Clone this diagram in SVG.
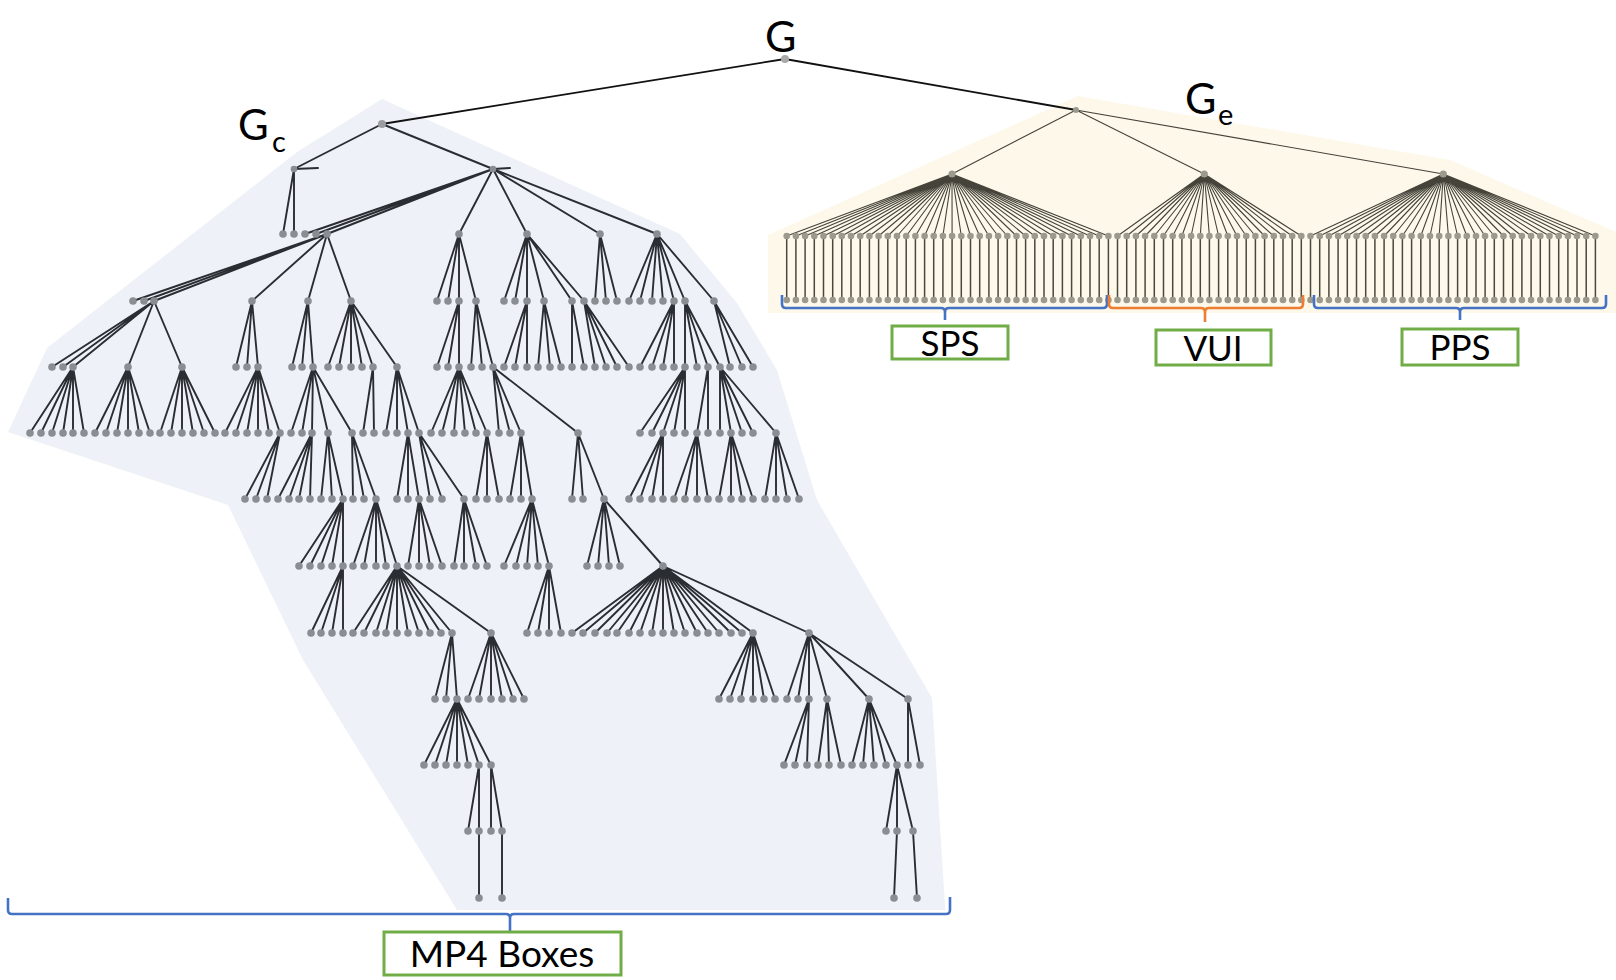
<svg xmlns="http://www.w3.org/2000/svg" width="1616" height="980" viewBox="0 0 1616 980">
<style>
.lbl{font-family:Lato,"Open Sans","Liberation Sans",sans-serif;fill:#000}
.e{stroke:#2a2d32;stroke-width:1.9;fill:none;stroke-linecap:round}
.top{stroke:#111;stroke-width:1.8;fill:none}
.n circle{fill:#8a8d92}
.re{stroke:#45433a;stroke-width:1.1;fill:none}
.rv{stroke:#4a483d;stroke-width:1.5;fill:none}
.rn circle{fill:#9c9a8d}
.box{fill:#fff;stroke:#70ad47;stroke-width:3}
.bb{stroke:#4472c4;stroke-width:2.6;fill:none}
.bo{stroke:#ed7d31;stroke-width:2.6;fill:none}
</style>
<rect width="1616" height="980" fill="#fff"/>
<g id="backgrounds">
<polygon points="382,99 680,234 737,303 777,370 817,500 932,698 945,905 945,910 457,910 303,660 228,505 8,432 47,348 297,152" fill="#eef1f7"/>
<polygon points="768,235 1078,96 1450,160 1616,232 1616,313 768,313" fill="#fdf8ea"/>
</g>
<g id="connectors">
<path class="top" d="M785 59L382 124M785 59L1076 110"/>
<path class="re" stroke-width="1.5" d="M1076 110L952 174M1076 110L1204.3 174M1076 110L1443.3 174"/>
<path class="e" d="M382 124L294 169M382 124L493 169"/>
<path class="e" stroke-width="1.2" d="M294 169L318 168M493 169L510 168"/>
<path class="e" d="M294 169L283 234M294 169L294 234M493 169L305 234M493 169L316 234M493 169L327 234M493 169L459 234M493 169L527 234M493 169L600 234M493 169L657 234"/>
<path class="e" d="M327 234L133 301M327 234L144 301M327 234L154 301M327 234L252 301M327 234L308 301M327 234L351 301M459 234L437 301M459 234L448 301M459 234L459 301M459 234L476 301M527 234L504 301M527 234L515 301M527 234L527 301M527 234L544 301M527 234L572 301M527 234L584 301M600 234L595 301M600 234L606 301M600 234L617 301M657 234L629 301M657 234L640 301M657 234L652 301M657 234L663 301M657 234L674 301M657 234L685 301M657 234L714 301"/>
<path class="e" d="M154 301L52 367M154 301L63 367M154 301L73 367M154 301L128 367M154 301L182 367M252 301L236 367M252 301L247 367M252 301L258 367M308 301L292 367M308 301L302 367M308 301L313 367M351 301L328 367M351 301L339 367M351 301L351 367M351 301L362 367M351 301L373 367M351 301L397 367M459 301L437 367M459 301L448 367M459 301L459 367M476 301L471 367M476 301L482 367M476 301L493 367M527 301L504 367M527 301L515 367M527 301L527 367M544 301L538 367M544 301L550 367M544 301L561 367M572 301L572 367M572 301L584 367M584 301L595 367M584 301L606 367M584 301L617 367M584 301L629 367M674 301L640 367M674 301L652 367M674 301L663 367M674 301L674 367M685 301L685 367M685 301L697 367M685 301L708 367M685 301L720 367M714 301L730 367M714 301L742 367M714 301L753 367"/>
<path class="e" d="M73 367L30 433M73 367L41 433M73 367L52 433M73 367L63 433M73 367L73 433M73 367L84 433M128 367L95 433M128 367L106 433M128 367L117 433M128 367L128 433M128 367L139 433M128 367L150 433M182 367L160 433M182 367L171 433M182 367L182 433M182 367L193 433M182 367L204 433M182 367L215 433M258 367L225 433M258 367L236 433M258 367L247 433M258 367L258 433M258 367L269 433M258 367L280 433M313 367L291 433M313 367L302 433M313 367L312 433M313 367L328 433M313 367L352 433M373 367L363 433M373 367L374 433M397 367L386 433M397 367L397 433M397 367L408 433M397 367L419 433M459 367L431 433M459 367L442 433M459 367L454 433M459 367L465 433M459 367L476 433M459 367L487 433M493 367L499 433M493 367L510 433M493 367L521 433M493 367L578 433M685 367L640 433M685 367L652 433M685 367L663 433M685 367L674 433M685 367L685 433M708 367L697 433M708 367L708 433M720 367L720 433M720 367L731 433M720 367L742 433M720 367L753 433M720 367L776 433"/>
<path class="e" d="M280 433L245 499M280 433L256 499M280 433L267 499M312 433L278 499M312 433L289 499M312 433L299 499M312 433L310 499M328 433L321 499M328 433L332 499M328 433L343 499M352 433L353 499M352 433L364 499M352 433L376 499M408 433L397 499M408 433L408 499M408 433L419 499M419 433L430 499M419 433L442 499M419 433L464 499M487 433L476 499M487 433L487 499M487 433L499 499M521 433L510 499M521 433L521 499M521 433L532 499M578 433L572 499M578 433L583 499M578 433L604 499M663 433L629 499M663 433L640 499M663 433L652 499M663 433L663 499M697 433L674 499M697 433L685 499M697 433L697 499M697 433L708 499M731 433L719 499M731 433L731 499M731 433L742 499M731 433L753 499M776 433L765 499M776 433L776 499M776 433L787 499M776 433L799 499"/>
<path class="e" d="M343 499L299 566M343 499L310 566M343 499L321 566M343 499L332 566M343 499L343 566M376 499L353 566M376 499L364 566M376 499L376 566M376 499L386 566M376 499L397 566M419 499L408 566M419 499L419 566M419 499L430 566M419 499L442 566M464 499L454 566M464 499L464 566M464 499L476 566M464 499L487 566M532 499L504 566M532 499L516 566M532 499L527 566M532 499L538 566M532 499L549 566M604 499L587 566M604 499L598 566M604 499L609 566M604 499L620 566M604 499L663 566"/>
<path class="e" d="M343 566L311 633M343 566L321 633M343 566L332 633M343 566L343 633M397 566L353 633M397 566L364 633M397 566L376 633M397 566L386 633M397 566L397 633M397 566L408 633M397 566L419 633M397 566L430 633M397 566L441 633M397 566L452 633M397 566L491 633M549 566L527 633M549 566L538 633M549 566L549 633M549 566L561 633M663 566L572 633M663 566L583 633M663 566L595 633M663 566L607 633M663 566L617 633M663 566L629 633M663 566L640 633M663 566L652 633M663 566L663 633M663 566L674 633M663 566L685 633M663 566L697 633M663 566L708 633M663 566L719 633M663 566L731 633M663 566L742 633M663 566L753 633M663 566L809 633"/>
<path class="e" d="M452 633L435 699M452 633L446 699M452 633L457 699M491 633L468 699M491 633L479 699M491 633L491 699M491 633L502 699M491 633L513 699M491 633L524 699M753 633L719 699M753 633L730 699M753 633L741 699M753 633L753 699M753 633L764 699M753 633L775 699M809 633L787 699M809 633L798 699M809 633L809 699M809 633L827 699M809 633L869 699M809 633L908 699"/>
<path class="e" d="M457 699L424 765M457 699L435 765M457 699L446 765M457 699L457 765M457 699L468 765M457 699L479 765M457 699L491 765M809 699L784 765M809 699L795 765M809 699L807 765M827 699L818 765M827 699L829 765M827 699L841 765M869 699L852 765M869 699L863 765M869 699L874 765M869 699L886 765M869 699L897 765M908 699L908 765M908 699L920 765"/>
<path class="e" d="M479 765L468 831M479 765L479 831M491 765L491 831M491 765L502 831M897 765L886 831M897 765L897 831M897 765L913 831M479 831L479 898M502 831L502 898M897 831L894 898M913 831L917 898"/>
<path class="re" d="M952 174L786.7 236M952 174L795.9 236M952 174L805.1 236M952 174L814.3 236M952 174L823.5 236M952 174L832.7 236M952 174L841.8 236M952 174L851 236M952 174L860.2 236M952 174L869.4 236M952 174L878.6 236M952 174L887.8 236M952 174L897 236M952 174L906.2 236M952 174L915.4 236M952 174L924.6 236M952 174L933.7 236M952 174L942.9 236M952 174L952.1 236M952 174L961.3 236M952 174L970.5 236M952 174L979.7 236M952 174L988.9 236M952 174L998.1 236M952 174L1007.3 236M952 174L1016.5 236M952 174L1025.6 236M952 174L1034.8 236M952 174L1044 236M952 174L1053.2 236M952 174L1062.4 236M952 174L1071.6 236M952 174L1080.8 236M952 174L1090 236M952 174L1099.2 236M952 174L1108.4 236"/>
<path class="re" d="M1204.3 174L1117.5 236M1204.3 174L1126.7 236M1204.3 174L1135.9 236M1204.3 174L1145.1 236M1204.3 174L1154.3 236M1204.3 174L1163.5 236M1204.3 174L1172.7 236M1204.3 174L1181.9 236M1204.3 174L1191.1 236M1204.3 174L1200.3 236M1204.3 174L1209.4 236M1204.3 174L1218.6 236M1204.3 174L1227.8 236M1204.3 174L1237 236M1204.3 174L1246.2 236M1204.3 174L1255.4 236M1204.3 174L1264.6 236M1204.3 174L1273.8 236M1204.3 174L1283 236M1204.3 174L1292.2 236M1204.3 174L1301.3 236"/>
<path class="re" d="M1443.3 174L1310.5 236M1443.3 174L1319.7 236M1443.3 174L1328.9 236M1443.3 174L1338.1 236M1443.3 174L1347.3 236M1443.3 174L1356.5 236M1443.3 174L1365.7 236M1443.3 174L1374.9 236M1443.3 174L1384.1 236M1443.3 174L1393.2 236M1443.3 174L1402.4 236M1443.3 174L1411.6 236M1443.3 174L1420.8 236M1443.3 174L1430 236M1443.3 174L1439.2 236M1443.3 174L1448.4 236M1443.3 174L1457.6 236M1443.3 174L1466.8 236M1443.3 174L1476 236M1443.3 174L1485.1 236M1443.3 174L1494.3 236M1443.3 174L1503.5 236M1443.3 174L1512.7 236M1443.3 174L1521.9 236M1443.3 174L1531.1 236M1443.3 174L1540.3 236M1443.3 174L1549.5 236M1443.3 174L1558.7 236M1443.3 174L1567.9 236M1443.3 174L1577 236M1443.3 174L1586.2 236M1443.3 174L1595.4 236"/>
<path class="rv" d="M786.7 236V300M795.9 236V300M805.1 236V300M814.3 236V300M823.5 236V300M832.7 236V300M841.8 236V300M851 236V300M860.2 236V300M869.4 236V300M878.6 236V300M887.8 236V300M897 236V300M906.2 236V300M915.4 236V300M924.6 236V300M933.7 236V300M942.9 236V300M952.1 236V300M961.3 236V300M970.5 236V300M979.7 236V300M988.9 236V300M998.1 236V300M1007.3 236V300M1016.5 236V300M1025.6 236V300M1034.8 236V300M1044 236V300M1053.2 236V300M1062.4 236V300M1071.6 236V300M1080.8 236V300M1090 236V300M1099.2 236V300M1108.4 236V300M1117.5 236V300M1126.7 236V300M1135.9 236V300M1145.1 236V300M1154.3 236V300M1163.5 236V300M1172.7 236V300M1181.9 236V300M1191.1 236V300M1200.3 236V300M1209.4 236V300M1218.6 236V300M1227.8 236V300M1237 236V300M1246.2 236V300M1255.4 236V300M1264.6 236V300M1273.8 236V300M1283 236V300M1292.2 236V300M1301.3 236V300M1310.5 236V300M1319.7 236V300M1328.9 236V300M1338.1 236V300M1347.3 236V300M1356.5 236V300M1365.7 236V300M1374.9 236V300M1384.1 236V300M1393.2 236V300M1402.4 236V300M1411.6 236V300M1420.8 236V300M1430 236V300M1439.2 236V300M1448.4 236V300M1457.6 236V300M1466.8 236V300M1476 236V300M1485.1 236V300M1494.3 236V300M1503.5 236V300M1512.7 236V300M1521.9 236V300M1531.1 236V300M1540.3 236V300M1549.5 236V300M1558.7 236V300M1567.9 236V300M1577 236V300M1586.2 236V300M1595.4 236V300"/>
</g>
<g id="node-G"><circle cx="785" cy="59" r="4" fill="#a9a9a9"/><text class="lbl" x="765" y="52" font-size="43">G</text></g>
<g id="node-Gc"><circle cx="382" cy="124" r="4" fill="#9a9ca0"/><text class="lbl" x="238" y="140" font-size="42">G</text><text class="lbl" x="272" y="152" font-size="29">c</text></g>
<g id="node-Ge"><circle cx="1076" cy="110" r="3" fill="#9a9a90"/><text class="lbl" x="1185" y="114" font-size="43">G</text><text class="lbl" x="1218" y="125" font-size="29">e</text></g>
<g id="gc-nodes" class="n">
<g id="gc-l1" transform="translate(0,169)"><circle cx="294" r="3.3"/><circle cx="493" r="3.3"/></g>
<g id="gc-l2" transform="translate(0,234)"><circle cx="283" r="3.8"/><circle cx="294" r="3.8"/><circle cx="305" r="3.8"/><circle cx="316" r="3.8"/><circle cx="327" r="3.8"/><circle cx="459" r="3.8"/><circle cx="527" r="3.8"/><circle cx="600" r="3.8"/><circle cx="657" r="3.8"/></g>
<g id="gc-l3" transform="translate(0,301)"><circle cx="133" r="3.8"/><circle cx="144" r="3.8"/><circle cx="154" r="3.8"/><circle cx="252" r="3.8"/><circle cx="308" r="3.8"/><circle cx="351" r="3.8"/><circle cx="437" r="3.8"/><circle cx="448" r="3.8"/><circle cx="459" r="3.8"/><circle cx="476" r="3.8"/><circle cx="504" r="3.8"/><circle cx="515" r="3.8"/><circle cx="527" r="3.8"/><circle cx="544" r="3.8"/><circle cx="572" r="3.8"/><circle cx="584" r="3.8"/><circle cx="595" r="3.8"/><circle cx="606" r="3.8"/><circle cx="617" r="3.8"/><circle cx="629" r="3.8"/><circle cx="640" r="3.8"/><circle cx="652" r="3.8"/><circle cx="663" r="3.8"/><circle cx="674" r="3.8"/><circle cx="685" r="3.8"/><circle cx="714" r="3.8"/></g>
<g id="gc-l4" transform="translate(0,367)"><circle cx="52" r="3.8"/><circle cx="63" r="3.8"/><circle cx="73" r="3.8"/><circle cx="128" r="3.8"/><circle cx="182" r="3.8"/><circle cx="236" r="3.8"/><circle cx="247" r="3.8"/><circle cx="258" r="3.8"/><circle cx="292" r="3.8"/><circle cx="302" r="3.8"/><circle cx="313" r="3.8"/><circle cx="328" r="3.8"/><circle cx="339" r="3.8"/><circle cx="351" r="3.8"/><circle cx="362" r="3.8"/><circle cx="373" r="3.8"/><circle cx="397" r="3.8"/><circle cx="437" r="3.8"/><circle cx="448" r="3.8"/><circle cx="459" r="3.8"/><circle cx="471" r="3.8"/><circle cx="482" r="3.8"/><circle cx="493" r="3.8"/><circle cx="504" r="3.8"/><circle cx="515" r="3.8"/><circle cx="527" r="3.8"/><circle cx="538" r="3.8"/><circle cx="550" r="3.8"/><circle cx="561" r="3.8"/><circle cx="572" r="3.8"/><circle cx="584" r="3.8"/><circle cx="595" r="3.8"/><circle cx="606" r="3.8"/><circle cx="617" r="3.8"/><circle cx="629" r="3.8"/><circle cx="640" r="3.8"/><circle cx="652" r="3.8"/><circle cx="663" r="3.8"/><circle cx="674" r="3.8"/><circle cx="685" r="3.8"/><circle cx="697" r="3.8"/><circle cx="708" r="3.8"/><circle cx="720" r="3.8"/><circle cx="730" r="3.8"/><circle cx="742" r="3.8"/><circle cx="753" r="3.8"/></g>
<g id="gc-l5" transform="translate(0,433)"><circle cx="30" r="3.8"/><circle cx="41" r="3.8"/><circle cx="52" r="3.8"/><circle cx="63" r="3.8"/><circle cx="73" r="3.8"/><circle cx="84" r="3.8"/><circle cx="95" r="3.8"/><circle cx="106" r="3.8"/><circle cx="117" r="3.8"/><circle cx="128" r="3.8"/><circle cx="139" r="3.8"/><circle cx="150" r="3.8"/><circle cx="160" r="3.8"/><circle cx="171" r="3.8"/><circle cx="182" r="3.8"/><circle cx="193" r="3.8"/><circle cx="204" r="3.8"/><circle cx="215" r="3.8"/><circle cx="225" r="3.8"/><circle cx="236" r="3.8"/><circle cx="247" r="3.8"/><circle cx="258" r="3.8"/><circle cx="269" r="3.8"/><circle cx="280" r="3.8"/><circle cx="291" r="3.8"/><circle cx="302" r="3.8"/><circle cx="312" r="3.8"/><circle cx="328" r="3.8"/><circle cx="352" r="3.8"/><circle cx="363" r="3.8"/><circle cx="374" r="3.8"/><circle cx="386" r="3.8"/><circle cx="397" r="3.8"/><circle cx="408" r="3.8"/><circle cx="419" r="3.8"/><circle cx="431" r="3.8"/><circle cx="442" r="3.8"/><circle cx="454" r="3.8"/><circle cx="465" r="3.8"/><circle cx="476" r="3.8"/><circle cx="487" r="3.8"/><circle cx="499" r="3.8"/><circle cx="510" r="3.8"/><circle cx="521" r="3.8"/><circle cx="578" r="3.8"/><circle cx="640" r="3.8"/><circle cx="652" r="3.8"/><circle cx="663" r="3.8"/><circle cx="674" r="3.8"/><circle cx="685" r="3.8"/><circle cx="697" r="3.8"/><circle cx="708" r="3.8"/><circle cx="720" r="3.8"/><circle cx="731" r="3.8"/><circle cx="742" r="3.8"/><circle cx="753" r="3.8"/><circle cx="776" r="3.8"/></g>
<g id="gc-l6" transform="translate(0,499)"><circle cx="245" r="3.8"/><circle cx="256" r="3.8"/><circle cx="267" r="3.8"/><circle cx="278" r="3.8"/><circle cx="289" r="3.8"/><circle cx="299" r="3.8"/><circle cx="310" r="3.8"/><circle cx="321" r="3.8"/><circle cx="332" r="3.8"/><circle cx="343" r="3.8"/><circle cx="353" r="3.8"/><circle cx="364" r="3.8"/><circle cx="376" r="3.8"/><circle cx="397" r="3.8"/><circle cx="408" r="3.8"/><circle cx="419" r="3.8"/><circle cx="430" r="3.8"/><circle cx="442" r="3.8"/><circle cx="464" r="3.8"/><circle cx="476" r="3.8"/><circle cx="487" r="3.8"/><circle cx="499" r="3.8"/><circle cx="510" r="3.8"/><circle cx="521" r="3.8"/><circle cx="532" r="3.8"/><circle cx="572" r="3.8"/><circle cx="583" r="3.8"/><circle cx="604" r="3.8"/><circle cx="629" r="3.8"/><circle cx="640" r="3.8"/><circle cx="652" r="3.8"/><circle cx="663" r="3.8"/><circle cx="674" r="3.8"/><circle cx="685" r="3.8"/><circle cx="697" r="3.8"/><circle cx="708" r="3.8"/><circle cx="719" r="3.8"/><circle cx="731" r="3.8"/><circle cx="742" r="3.8"/><circle cx="753" r="3.8"/><circle cx="765" r="3.8"/><circle cx="776" r="3.8"/><circle cx="787" r="3.8"/><circle cx="799" r="3.8"/></g>
<g id="gc-l7" transform="translate(0,566)"><circle cx="299" r="3.8"/><circle cx="310" r="3.8"/><circle cx="321" r="3.8"/><circle cx="332" r="3.8"/><circle cx="343" r="3.8"/><circle cx="353" r="3.8"/><circle cx="364" r="3.8"/><circle cx="376" r="3.8"/><circle cx="386" r="3.8"/><circle cx="397" r="3.8"/><circle cx="408" r="3.8"/><circle cx="419" r="3.8"/><circle cx="430" r="3.8"/><circle cx="442" r="3.8"/><circle cx="454" r="3.8"/><circle cx="464" r="3.8"/><circle cx="476" r="3.8"/><circle cx="487" r="3.8"/><circle cx="504" r="3.8"/><circle cx="516" r="3.8"/><circle cx="527" r="3.8"/><circle cx="538" r="3.8"/><circle cx="549" r="3.8"/><circle cx="587" r="3.8"/><circle cx="598" r="3.8"/><circle cx="609" r="3.8"/><circle cx="620" r="3.8"/><circle cx="663" r="3.8"/></g>
<g id="gc-l8" transform="translate(0,633)"><circle cx="311" r="3.8"/><circle cx="321" r="3.8"/><circle cx="332" r="3.8"/><circle cx="343" r="3.8"/><circle cx="353" r="3.8"/><circle cx="364" r="3.8"/><circle cx="376" r="3.8"/><circle cx="386" r="3.8"/><circle cx="397" r="3.8"/><circle cx="408" r="3.8"/><circle cx="419" r="3.8"/><circle cx="430" r="3.8"/><circle cx="441" r="3.8"/><circle cx="452" r="3.8"/><circle cx="491" r="3.8"/><circle cx="527" r="3.8"/><circle cx="538" r="3.8"/><circle cx="549" r="3.8"/><circle cx="561" r="3.8"/><circle cx="572" r="3.8"/><circle cx="583" r="3.8"/><circle cx="595" r="3.8"/><circle cx="607" r="3.8"/><circle cx="617" r="3.8"/><circle cx="629" r="3.8"/><circle cx="640" r="3.8"/><circle cx="652" r="3.8"/><circle cx="663" r="3.8"/><circle cx="674" r="3.8"/><circle cx="685" r="3.8"/><circle cx="697" r="3.8"/><circle cx="708" r="3.8"/><circle cx="719" r="3.8"/><circle cx="731" r="3.8"/><circle cx="742" r="3.8"/><circle cx="753" r="3.8"/><circle cx="809" r="3.8"/></g>
<g id="gc-l9" transform="translate(0,699)"><circle cx="435" r="3.8"/><circle cx="446" r="3.8"/><circle cx="457" r="3.8"/><circle cx="468" r="3.8"/><circle cx="479" r="3.8"/><circle cx="491" r="3.8"/><circle cx="502" r="3.8"/><circle cx="513" r="3.8"/><circle cx="524" r="3.8"/><circle cx="719" r="3.8"/><circle cx="730" r="3.8"/><circle cx="741" r="3.8"/><circle cx="753" r="3.8"/><circle cx="764" r="3.8"/><circle cx="775" r="3.8"/><circle cx="787" r="3.8"/><circle cx="798" r="3.8"/><circle cx="809" r="3.8"/><circle cx="827" r="3.8"/><circle cx="869" r="3.8"/><circle cx="908" r="3.8"/></g>
<g id="gc-l10" transform="translate(0,765)"><circle cx="424" r="3.8"/><circle cx="435" r="3.8"/><circle cx="446" r="3.8"/><circle cx="457" r="3.8"/><circle cx="468" r="3.8"/><circle cx="479" r="3.8"/><circle cx="491" r="3.8"/><circle cx="784" r="3.8"/><circle cx="795" r="3.8"/><circle cx="807" r="3.8"/><circle cx="818" r="3.8"/><circle cx="829" r="3.8"/><circle cx="841" r="3.8"/><circle cx="852" r="3.8"/><circle cx="863" r="3.8"/><circle cx="874" r="3.8"/><circle cx="886" r="3.8"/><circle cx="897" r="3.8"/><circle cx="908" r="3.8"/><circle cx="920" r="3.8"/></g>
<g id="gc-l11" transform="translate(0,831)"><circle cx="468" r="3.8"/><circle cx="479" r="3.8"/><circle cx="491" r="3.8"/><circle cx="502" r="3.8"/><circle cx="886" r="3.8"/><circle cx="897" r="3.8"/><circle cx="913" r="3.8"/></g>
<g id="gc-l12" transform="translate(0,898)"><circle cx="479" r="3.8"/><circle cx="502" r="3.8"/><circle cx="894" r="3.8"/><circle cx="917" r="3.8"/></g>
</g>
<g id="ge-nodes" class="rn">
<g id="ge-l1"><circle cx="952" cy="174" r="3.6"/><circle cx="1204.3" cy="174" r="3.6"/><circle cx="1443.3" cy="174" r="3.6"/></g>
<g id="ge-l2" transform="translate(0,236)"><circle cx="786.7" r="3.3"/><circle cx="795.9" r="3.3"/><circle cx="805.1" r="3.3"/><circle cx="814.3" r="3.3"/><circle cx="823.5" r="3.3"/><circle cx="832.7" r="3.3"/><circle cx="841.8" r="3.3"/><circle cx="851" r="3.3"/><circle cx="860.2" r="3.3"/><circle cx="869.4" r="3.3"/><circle cx="878.6" r="3.3"/><circle cx="887.8" r="3.3"/><circle cx="897" r="3.3"/><circle cx="906.2" r="3.3"/><circle cx="915.4" r="3.3"/><circle cx="924.6" r="3.3"/><circle cx="933.7" r="3.3"/><circle cx="942.9" r="3.3"/><circle cx="952.1" r="3.3"/><circle cx="961.3" r="3.3"/><circle cx="970.5" r="3.3"/><circle cx="979.7" r="3.3"/><circle cx="988.9" r="3.3"/><circle cx="998.1" r="3.3"/><circle cx="1007.3" r="3.3"/><circle cx="1016.5" r="3.3"/><circle cx="1025.6" r="3.3"/><circle cx="1034.8" r="3.3"/><circle cx="1044" r="3.3"/><circle cx="1053.2" r="3.3"/><circle cx="1062.4" r="3.3"/><circle cx="1071.6" r="3.3"/><circle cx="1080.8" r="3.3"/><circle cx="1090" r="3.3"/><circle cx="1099.2" r="3.3"/><circle cx="1108.4" r="3.3"/><circle cx="1117.5" r="3.3"/><circle cx="1126.7" r="3.3"/><circle cx="1135.9" r="3.3"/><circle cx="1145.1" r="3.3"/><circle cx="1154.3" r="3.3"/><circle cx="1163.5" r="3.3"/><circle cx="1172.7" r="3.3"/><circle cx="1181.9" r="3.3"/><circle cx="1191.1" r="3.3"/><circle cx="1200.3" r="3.3"/><circle cx="1209.4" r="3.3"/><circle cx="1218.6" r="3.3"/><circle cx="1227.8" r="3.3"/><circle cx="1237" r="3.3"/><circle cx="1246.2" r="3.3"/><circle cx="1255.4" r="3.3"/><circle cx="1264.6" r="3.3"/><circle cx="1273.8" r="3.3"/><circle cx="1283" r="3.3"/><circle cx="1292.2" r="3.3"/><circle cx="1301.3" r="3.3"/><circle cx="1310.5" r="3.3"/><circle cx="1319.7" r="3.3"/><circle cx="1328.9" r="3.3"/><circle cx="1338.1" r="3.3"/><circle cx="1347.3" r="3.3"/><circle cx="1356.5" r="3.3"/><circle cx="1365.7" r="3.3"/><circle cx="1374.9" r="3.3"/><circle cx="1384.1" r="3.3"/><circle cx="1393.2" r="3.3"/><circle cx="1402.4" r="3.3"/><circle cx="1411.6" r="3.3"/><circle cx="1420.8" r="3.3"/><circle cx="1430" r="3.3"/><circle cx="1439.2" r="3.3"/><circle cx="1448.4" r="3.3"/><circle cx="1457.6" r="3.3"/><circle cx="1466.8" r="3.3"/><circle cx="1476" r="3.3"/><circle cx="1485.1" r="3.3"/><circle cx="1494.3" r="3.3"/><circle cx="1503.5" r="3.3"/><circle cx="1512.7" r="3.3"/><circle cx="1521.9" r="3.3"/><circle cx="1531.1" r="3.3"/><circle cx="1540.3" r="3.3"/><circle cx="1549.5" r="3.3"/><circle cx="1558.7" r="3.3"/><circle cx="1567.9" r="3.3"/><circle cx="1577" r="3.3"/><circle cx="1586.2" r="3.3"/><circle cx="1595.4" r="3.3"/></g>
<g id="ge-l3" transform="translate(0,300)"><circle cx="786.7" r="3.3"/><circle cx="795.9" r="3.3"/><circle cx="805.1" r="3.3"/><circle cx="814.3" r="3.3"/><circle cx="823.5" r="3.3"/><circle cx="832.7" r="3.3"/><circle cx="841.8" r="3.3"/><circle cx="851" r="3.3"/><circle cx="860.2" r="3.3"/><circle cx="869.4" r="3.3"/><circle cx="878.6" r="3.3"/><circle cx="887.8" r="3.3"/><circle cx="897" r="3.3"/><circle cx="906.2" r="3.3"/><circle cx="915.4" r="3.3"/><circle cx="924.6" r="3.3"/><circle cx="933.7" r="3.3"/><circle cx="942.9" r="3.3"/><circle cx="952.1" r="3.3"/><circle cx="961.3" r="3.3"/><circle cx="970.5" r="3.3"/><circle cx="979.7" r="3.3"/><circle cx="988.9" r="3.3"/><circle cx="998.1" r="3.3"/><circle cx="1007.3" r="3.3"/><circle cx="1016.5" r="3.3"/><circle cx="1025.6" r="3.3"/><circle cx="1034.8" r="3.3"/><circle cx="1044" r="3.3"/><circle cx="1053.2" r="3.3"/><circle cx="1062.4" r="3.3"/><circle cx="1071.6" r="3.3"/><circle cx="1080.8" r="3.3"/><circle cx="1090" r="3.3"/><circle cx="1099.2" r="3.3"/><circle cx="1108.4" r="3.3"/><circle cx="1117.5" r="3.3"/><circle cx="1126.7" r="3.3"/><circle cx="1135.9" r="3.3"/><circle cx="1145.1" r="3.3"/><circle cx="1154.3" r="3.3"/><circle cx="1163.5" r="3.3"/><circle cx="1172.7" r="3.3"/><circle cx="1181.9" r="3.3"/><circle cx="1191.1" r="3.3"/><circle cx="1200.3" r="3.3"/><circle cx="1209.4" r="3.3"/><circle cx="1218.6" r="3.3"/><circle cx="1227.8" r="3.3"/><circle cx="1237" r="3.3"/><circle cx="1246.2" r="3.3"/><circle cx="1255.4" r="3.3"/><circle cx="1264.6" r="3.3"/><circle cx="1273.8" r="3.3"/><circle cx="1283" r="3.3"/><circle cx="1292.2" r="3.3"/><circle cx="1301.3" r="3.3"/><circle cx="1310.5" r="3.3"/><circle cx="1319.7" r="3.3"/><circle cx="1328.9" r="3.3"/><circle cx="1338.1" r="3.3"/><circle cx="1347.3" r="3.3"/><circle cx="1356.5" r="3.3"/><circle cx="1365.7" r="3.3"/><circle cx="1374.9" r="3.3"/><circle cx="1384.1" r="3.3"/><circle cx="1393.2" r="3.3"/><circle cx="1402.4" r="3.3"/><circle cx="1411.6" r="3.3"/><circle cx="1420.8" r="3.3"/><circle cx="1430" r="3.3"/><circle cx="1439.2" r="3.3"/><circle cx="1448.4" r="3.3"/><circle cx="1457.6" r="3.3"/><circle cx="1466.8" r="3.3"/><circle cx="1476" r="3.3"/><circle cx="1485.1" r="3.3"/><circle cx="1494.3" r="3.3"/><circle cx="1503.5" r="3.3"/><circle cx="1512.7" r="3.3"/><circle cx="1521.9" r="3.3"/><circle cx="1531.1" r="3.3"/><circle cx="1540.3" r="3.3"/><circle cx="1549.5" r="3.3"/><circle cx="1558.7" r="3.3"/><circle cx="1567.9" r="3.3"/><circle cx="1577" r="3.3"/><circle cx="1586.2" r="3.3"/><circle cx="1595.4" r="3.3"/></g>
</g>
<g id="braces">
<path class="bb" d="M782 295V304Q782 308 786 308H941Q945 308 945 312V320M945 312Q945 308 949 308H1103Q1107 308 1107 304V295"/>
<path class="bo" d="M1109 295V304Q1109 308 1113 308H1201Q1205 308 1205 312V322M1205 312Q1205 308 1209 308H1299Q1303 308 1303 304V295"/>
<path class="bb" d="M1314 295V304Q1314 308 1318 308H1456Q1460 308 1460 312V320M1460 312Q1460 308 1464 308H1602Q1606 308 1606 304V295"/>
<path class="bb" stroke-width="3" d="M8 898V910Q8 914 12 914H506Q510 914 510 918V932M510 918Q510 914 514 914H946Q950 914 950 910V897"/>
</g>
<g id="label-SPS"><rect class="box" x="892" y="326" width="116" height="33"/><text class="lbl" x="950" y="356" font-size="35" text-anchor="middle">SPS</text></g>
<g id="label-VUI"><rect class="box" x="1156" y="330" width="115" height="35"/><text class="lbl" x="1213" y="361" font-size="35" text-anchor="middle">VUI</text></g>
<g id="label-PPS"><rect class="box" x="1402" y="329" width="116" height="36"/><text class="lbl" x="1460" y="360" font-size="35" text-anchor="middle">PPS</text></g>
<g id="label-MP4"><rect class="box" x="384" y="932" width="237" height="43"/><text class="lbl" x="502" y="967" font-size="37" text-anchor="middle">MP4 Boxes</text></g>
</svg>
